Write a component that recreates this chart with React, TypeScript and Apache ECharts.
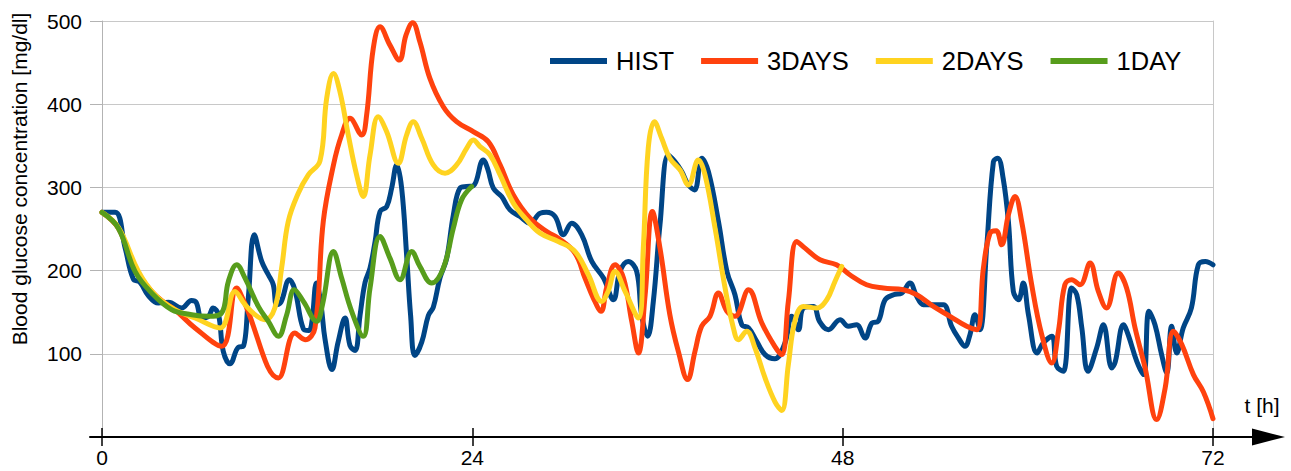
import React, { useEffect, useRef } from "react";
import * as echarts from "echarts";

// ---- data (t in hours, glucose in mg/dl) ----
const histT = [0, 0.85, 1.5, 2.03, 2.46, 3.0, 3.65, 4.3, 5.16, 5.8, 6.1, 6.46, 6.9, 7.2, 7.55, 7.86, 8.3, 8.84, 9.16, 9.48, 9.87, 10.35, 10.78, 11.1, 11.32, 11.6, 12.14, 12.5, 13.05, 13.4, 13.6, 13.9, 14.2, 14.45, 14.9, 15.3, 15.75, 16.07, 16.4, 16.72, 17.05, 17.37, 17.7, 18.02, 18.45, 18.77, 19.1, 19.42, 19.74, 20.0, 20.28, 20.72, 21.15, 21.47, 21.9, 22.34, 22.77, 23.2, 23.64, 24.07, 24.71, 25.0, 25.36, 25.9, 26.44, 27.09, 27.74, 28.39, 28.8, 29.36, 29.9, 30.44, 31.09, 31.74, 32.5, 33.14, 33.57, 34.1, 34.65, 34.97, 35.36, 35.73, 36.16, 36.7, 37.13, 37.57, 38.0, 38.4, 38.87, 39.3, 39.95, 40.5, 41.02, 41.46, 41.9, 42.43, 42.97, 43.6, 44.26, 44.7, 45.13, 45.45, 46.1, 46.5, 47.07, 47.83, 48.37, 48.9, 49.45, 49.9, 50.3, 50.75, 51.3, 51.83, 52.36, 52.8, 53.23, 53.88, 54.53, 55.06, 55.5, 55.93, 56.25, 56.57, 56.9, 57.33, 57.77, 58.05, 58.4, 58.74, 59.06, 59.4, 59.7, 60.04, 60.6, 61.0, 61.55, 61.87, 62.3, 62.84, 63.17, 63.5, 63.9, 64.46, 64.9, 65.44, 65.66, 66.2, 66.5, 67.06, 67.5, 67.85, 68.24, 68.67, 69.0, 69.32, 69.65, 70.07, 70.6, 71.05, 71.5, 72.0];
const histV = [270, 270, 227, 190, 186, 170, 161, 162, 155, 164, 162, 143, 145, 155, 147, 103, 88, 108, 109, 167, 243, 211, 195, 183, 159, 162, 189, 177, 130, 128, 138, 185, 158, 118, 81, 114, 143, 110, 104, 146, 186, 203, 235, 271, 277, 299, 327, 299, 219, 146, 98, 114, 146, 156, 191, 215, 267, 299, 301, 302, 333, 322, 299, 289, 273, 265, 257, 269, 270, 265, 243, 257, 243, 211, 191, 165, 199, 211, 199, 147, 121, 163, 255, 339, 331, 319, 303, 297, 335, 319, 259, 199, 171, 135, 131, 115, 99, 94, 113, 145, 129, 155, 157, 139, 129, 141, 133, 135, 119, 137, 139, 165, 171, 173, 185, 169, 159, 159, 159, 133, 119, 109, 123, 147, 129, 227, 331, 335, 311, 259, 175, 165, 185, 147, 101, 113, 121, 85, 79, 179, 171, 131, 79, 107, 135, 83, 90, 135, 123, 91, 75, 151, 135, 99, 77, 133, 101, 131, 155, 207, 211, 207];

const days3T = [0, 1.06, 2.14, 3.22, 4.08, 4.73, 6.03, 7.75, 8.73, 9.2, 11.43, 12.5, 13.16, 13.8, 14.34, 15.0, 15.53, 16.07, 16.83, 17.15, 17.58, 18.02, 18.66, 19.27, 19.7, 20.13, 20.6, 21.25, 22.12, 22.98, 24.06, 25.03, 25.8, 26.66, 27.74, 28.9, 29.57, 30.65, 31.3, 31.84, 32.34, 32.7, 33.25, 33.8, 34.33, 34.76, 35.2, 35.67, 36.16, 36.8, 37.35, 37.95, 38.43, 38.86, 39.4, 39.95, 40.5, 41.02, 41.9, 42.76, 43.6, 44.05, 44.48, 45.02, 45.56, 46.53, 47.6, 48.46, 49.55, 50.63, 51.93, 52.8, 53.88, 54.96, 56.04, 56.69, 57.12, 57.55, 57.95, 58.3, 58.74, 59.17, 59.6, 60.25, 60.9, 61.55, 61.98, 62.4, 62.84, 63.38, 64.03, 64.57, 65.1, 65.86, 66.4, 66.95, 67.6, 68.35, 68.9, 69.44, 69.98, 70.73, 71.38, 72.0];
const days3V = [270, 251, 203, 175, 161, 153, 131, 109, 179, 163, 71, 125, 117, 131, 259, 327, 363, 383, 363, 387, 467, 493, 471, 453, 483, 498, 475, 431, 397, 379, 367, 355, 327, 291, 263, 246, 239, 221, 191, 167, 151, 179, 207, 191, 139, 101, 171, 271, 227, 147, 103, 69, 103, 133, 145, 173, 151, 145, 177, 137, 109, 99, 163, 235, 227, 213, 207, 195, 183, 179, 177, 171, 157, 145, 133, 129, 203, 245, 248, 231, 267, 289, 259, 183, 123, 89, 127, 183, 189, 183, 209, 175, 155, 197, 179, 131, 83, 21, 59, 127, 111, 75, 54, 22];

const days2T = [0, 1.06, 2.36, 3.43, 4.73, 6.03, 7.65, 8.62, 9.27, 9.92, 10.56, 11.2, 11.64, 12.07, 12.72, 13.37, 14.13, 14.56, 15.0, 15.42, 15.96, 16.5, 16.93, 17.37, 17.9, 18.45, 19.2, 19.74, 20.17, 20.72, 21.47, 22.23, 22.98, 23.63, 24.06, 24.5, 25.15, 25.8, 26.66, 27.52, 28.39, 29.57, 30.65, 31.52, 32.38, 32.8, 33.25, 33.9, 34.76, 35.08, 35.4, 35.8, 36.27, 36.8, 37.46, 38.0, 38.65, 39.08, 39.73, 40.38, 40.92, 41.24, 41.78, 42.32, 42.97, 43.62, 44.05, 44.48, 44.9, 45.45, 46.32, 46.97, 47.5, 47.94];
const days2V = [270, 252, 199, 171, 153, 143, 131, 175, 159, 147, 141, 155, 203, 259, 293, 315, 332, 407, 437, 415, 363, 315, 289, 339, 385, 367, 329, 363, 379, 359, 327, 317, 327, 347, 357, 349, 339, 315, 281, 261, 245, 235, 223, 195, 163, 175, 199, 175, 143, 227, 347, 379, 359, 335, 321, 303, 333, 315, 251, 179, 131, 117, 127, 107, 71, 42, 32, 87, 139, 157, 155, 165, 187, 205];

const day1T = [0, 1.06, 2.14, 3.22, 4.52, 5.81, 6.89, 7.75, 8.19, 8.73, 9.27, 10.13, 10.78, 11.43, 11.97, 12.46, 13.05, 13.91, 14.3, 15.0, 15.53, 16.18, 16.93, 17.37, 18.02, 18.66, 19.31, 20.07, 20.6, 21.36, 22.12, 22.77, 23.3, 23.96];
const day1V = [270, 251, 199, 173, 153, 147, 145, 149, 187, 207, 191, 157, 139, 121, 147, 177, 163, 139, 160, 223, 191, 151, 121, 179, 241, 215, 189, 223, 205, 185, 203, 251, 285, 301];

const seriesNames = ["HIST", "3DAYS", "2DAYS", "1DAY"];
const seriesColors = ["#004586", "#ff420e", "#ffd320", "#579d1c"];
const xTickValues = [0, 24, 48, 72];
const yTitle = "Blood glucose concentration [mg/dl]";
const xTitle = "t [h]";

const FONT = "'Liberation Sans', Arial, sans-serif";

export default function App() {
  const ref = useRef<HTMLDivElement>(null);

  useEffect(() => {
    document.body.style.margin = "0";
    const chart = echarts.init(ref.current as HTMLDivElement, null, { renderer: "svg" });
    const zip = (t: number[], v: number[]) => t.map((x, i) => [x, v[i]]);
    const allT = [histT, days3T, days2T, day1T];
    const allV = [histV, days3V, days2V, day1V];

    chart.setOption({
      animation: false,
      textStyle: { fontFamily: FONT },
      grid: [
        { left: 102, right: 78, top: 21, bottom: 34 },
        { left: 90, right: 22.5, top: 21, bottom: 34 },
      ],
      legend: {
        data: seriesNames,
        icon: "rect",
        itemWidth: 57,
        itemHeight: 6,
        itemGap: 27,
        left: 545,
        top: 43,
        textStyle: { fontSize: 25.5, color: "#000", fontFamily: FONT, padding: [0, 0, 0, 4] },
      },
      xAxis: [
        {
          gridIndex: 0,
          type: "value",
          min: xTickValues[0],
          max: xTickValues[xTickValues.length - 1],
          interval: 24,
          offset: -9,
          axisLine: { show: false },
          axisTick: { show: true, length: 18, lineStyle: { color: "#000", width: 1.5 } },
          axisLabel: { margin: 19, fontSize: 21, color: "#000", fontFamily: FONT },
          splitLine: { show: false },
        },
        {
          gridIndex: 1,
          type: "value",
          min: 0,
          max: 1,
          axisLine: {
            show: true,
            lineStyle: { color: "#000", width: 2 },
            symbol: ["none", "triangle"],
            symbolSize: [17, 33],
          },
          axisTick: { show: false },
          axisLabel: { show: false },
          splitLine: { show: false },
        },
      ],
      yAxis: [
        {
          gridIndex: 0,
          type: "value",
          min: 0,
          max: 500,
          interval: 100,
          axisLine: { show: true, lineStyle: { color: "#b3b3b3", width: 1 } },
          axisTick: { show: true, length: 12, lineStyle: { color: "#b3b3b3" } },
          axisLabel: { margin: 20, fontSize: 21, color: "#000", fontFamily: FONT, showMinLabel: false },
          splitLine: { show: true, lineStyle: { color: "#c8c8c8", width: 1 } },
        },
        {
          gridIndex: 0,
          type: "value",
          position: "right",
          min: 0,
          max: 500,
          interval: 100,
          axisLine: { show: true, lineStyle: { color: "#c8c8c8", width: 1 } },
          axisTick: { show: false },
          axisLabel: { show: false },
          splitLine: { show: false },
        },
        { gridIndex: 1, type: "value", min: 0, max: 1, show: false },
      ],
      series: seriesNames.map((name, i) => ({
        name,
        type: "line",
        xAxisIndex: 0,
        yAxisIndex: 0,
        data: zip(allT[i], allV[i]),
        smooth: 0.4,
        showSymbol: false,
        symbol: "none",
        color: seriesColors[i],
        lineStyle: { color: seriesColors[i], width: 5, cap: "round", join: "round" },
        z: 3 + i,
      })),
      graphic: [
        {
          type: "text",
          x: 19,
          y: 179,
          rotation: Math.PI / 2,
          style: {
            text: yTitle,
            font: `21px ${FONT}`,
            fill: "#000",
            textAlign: "center",
            textVerticalAlign: "middle",
          },
        },
        {
          type: "text",
          x: 1262,
          y: 405,
          style: {
            text: xTitle,
            font: `21px ${FONT}`,
            fill: "#000",
            textAlign: "center",
            textVerticalAlign: "middle",
          },
        },
      ],
    });

    return () => chart.dispose();
  }, []);

  return <div ref={ref} style={{ width: 1291, height: 471 }} />;
}
